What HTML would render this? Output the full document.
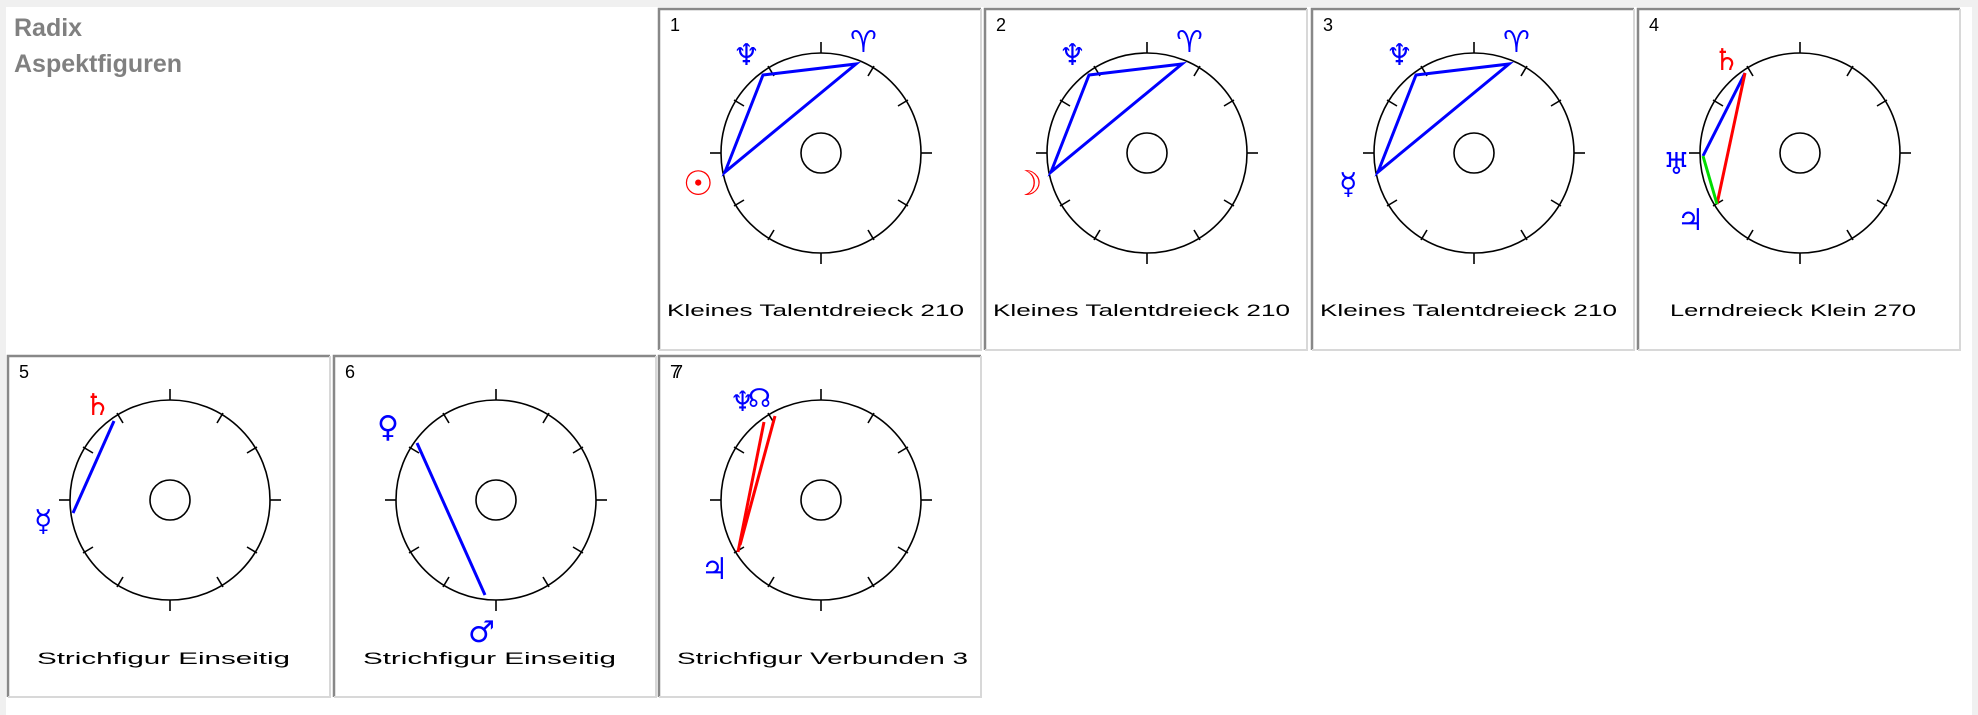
<!DOCTYPE html>
<html><head><meta charset="utf-8"><style>
html,body{margin:0;padding:0;background:#f0f0f0;}
body{width:1978px;height:715px;position:relative;overflow:hidden;}
#wb{position:absolute;left:6px;top:7px;width:1966px;height:708px;background:#fff;}
.t{position:absolute;left:14px;font:bold 25px "Liberation Sans",sans-serif;color:#808080;}
</style></head><body>
<div id="wb"></div>
<div class="t" style="top:14px">Radix</div>
<div class="t" style="top:50px">Aspektfiguren</div>
<svg width="1978" height="715" style="position:absolute;left:0;top:0" font-family="DejaVu Sans, sans-serif">
<defs>
<g id="frame">
<rect x="0" y="0" width="323" height="342" fill="#fff"/>
<path d="M1,342 V1 H323" stroke="#888" stroke-width="2.5" fill="none"/>
<path d="M1,342 H323 V1" stroke="#d8d8d8" stroke-width="2" fill="none"/>
<circle cx="163" cy="145" r="100" fill="none" stroke="#000" stroke-width="1.6"/>
<circle cx="163" cy="145" r="20" fill="none" stroke="#000" stroke-width="1.6"/>
<g stroke="#000" stroke-width="1.6">
<line x1="163" y1="45" x2="163" y2="34"/><line x1="163" y1="245" x2="163" y2="256"/>
<line x1="63" y1="145" x2="52" y2="145"/><line x1="263" y1="145" x2="274" y2="145"/>
<line x1="110" y1="58" x2="116" y2="68"/><line x1="216" y1="58" x2="210" y2="68"/>
<line x1="76" y1="92" x2="86" y2="98"/><line x1="250" y1="92" x2="240" y2="98"/>
<line x1="76" y1="198" x2="86" y2="192"/><line x1="250" y1="198" x2="240" y2="192"/>
<line x1="110" y1="232" x2="116" y2="222"/><line x1="216" y1="232" x2="210" y2="222"/>
</g>
</g>
</defs>

<g transform="translate(658,8)">
<use href="#frame"/>
<text x="12" y="23" font-family="Liberation Sans" font-size="18">1</text>
<polygon points="105,67 198,56 67,164" fill="none" stroke="#0000ff" stroke-width="3"/>
<text x="75" y="57" fill="#0000ff" font-size="30">♆</text>
<text x="192" y="44" fill="#0000ff" font-size="30">♈</text>
<text x="25" y="187" fill="#ff0000" font-size="34">☉</text>
<text x="9" y="308" font-family="Liberation Sans" font-size="17" textLength="297" lengthAdjust="spacingAndGlyphs">Kleines Talentdreieck 210</text>
</g>
<g transform="translate(984,8)">
<use href="#frame"/>
<text x="12" y="23" font-family="Liberation Sans" font-size="18">2</text>
<polygon points="105,67 198,56 67,164" fill="none" stroke="#0000ff" stroke-width="3"/>
<text x="75" y="57" fill="#0000ff" font-size="30">♆</text>
<text x="192" y="44" fill="#0000ff" font-size="30">♈</text>
<text x="28" y="187" fill="#ff0000" font-size="34">☽</text>
<text x="9" y="308" font-family="Liberation Sans" font-size="17" textLength="297" lengthAdjust="spacingAndGlyphs">Kleines Talentdreieck 210</text>
</g>
<g transform="translate(1311,8)">
<use href="#frame"/>
<text x="12" y="23" font-family="Liberation Sans" font-size="18">3</text>
<polygon points="105,67 198,56 67,164" fill="none" stroke="#0000ff" stroke-width="3"/>
<text x="75" y="57" fill="#0000ff" font-size="30">♆</text>
<text x="192" y="44" fill="#0000ff" font-size="30">♈</text>
<text x="28" y="186" fill="#0000ff" font-size="30">☿</text>
<text x="9" y="308" font-family="Liberation Sans" font-size="17" textLength="297" lengthAdjust="spacingAndGlyphs">Kleines Talentdreieck 210</text>
</g>
<g transform="translate(1637,8)">
<use href="#frame"/>
<text x="12" y="23" font-family="Liberation Sans" font-size="18">4</text>
<line x1="108" y1="65" x2="66" y2="148" stroke="#0000ff" stroke-width="3"/>
<line x1="108" y1="65" x2="80" y2="196" stroke="#ff0000" stroke-width="3"/>
<line x1="66" y1="148" x2="80" y2="196" stroke="#00dd00" stroke-width="3"/>
<text x="76" y="62" fill="#ff0000" font-size="30">♄</text>
<text x="26" y="166" fill="#0000ff" font-size="30">♅</text>
<text x="40" y="222" fill="#0000ff" font-size="30">♃</text>
<text x="33" y="308" font-family="Liberation Sans" font-size="17" textLength="246" lengthAdjust="spacingAndGlyphs">Lerndreieck Klein 270</text>
</g>
<g transform="translate(7,355)">
<use href="#frame"/>
<text x="12" y="23" font-family="Liberation Sans" font-size="18">5</text>
<line x1="107" y1="66" x2="66" y2="158" stroke="#0000ff" stroke-width="3"/>
<text x="77" y="60" fill="#ff0000" font-size="30">♄</text>
<text x="27" y="176" fill="#0000ff" font-size="30">☿</text>
<text x="30" y="309" font-family="Liberation Sans" font-size="17" textLength="253" lengthAdjust="spacingAndGlyphs">Strichfigur Einseitig</text>
</g>
<g transform="translate(333,355)">
<use href="#frame"/>
<text x="12" y="23" font-family="Liberation Sans" font-size="18">6</text>
<line x1="84" y1="88" x2="152" y2="240" stroke="#0000ff" stroke-width="3"/>
<text x="44" y="82" fill="#0000ff" font-size="30">♀</text>
<text x="135" y="287" fill="#0000ff" font-size="30">♂</text>
<text x="30" y="309" font-family="Liberation Sans" font-size="17" textLength="253" lengthAdjust="spacingAndGlyphs">Strichfigur Einseitig</text>
</g>
<g transform="translate(658,355)">
<use href="#frame"/>
<text x="12" y="23" font-family="Liberation Sans" font-size="18">7</text>
<text x="15" y="23" font-family="Liberation Sans" font-size="18">7</text>
<line x1="106" y1="67" x2="80" y2="197" stroke="#ff0000" stroke-width="3"/>
<line x1="117" y1="61" x2="82" y2="190" stroke="#ff0000" stroke-width="3"/>
<text x="72" y="56" fill="#0000ff" font-size="28">♆</text>
<text x="90" y="52" fill="#0000ff" font-size="26">☊</text>
<text x="43" y="224" fill="#0000ff" font-size="30">♃</text>
<text x="19" y="309" font-family="Liberation Sans" font-size="17" textLength="291" lengthAdjust="spacingAndGlyphs">Strichfigur Verbunden 3</text>
</g>
</svg>
</body></html>
